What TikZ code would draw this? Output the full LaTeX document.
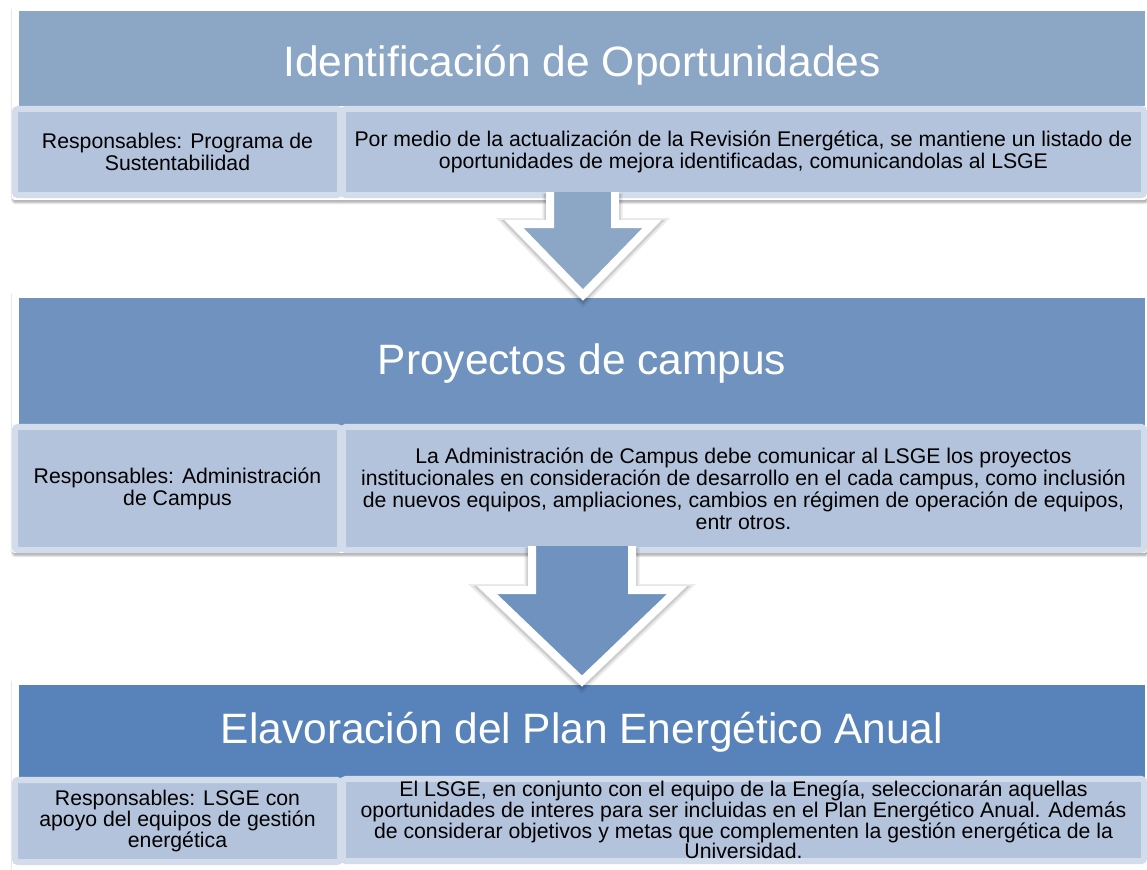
\documentclass[tikz,border=0pt]{standalone}
\usepackage{fontspec}
\setmainfont{Liberation Sans}
\usepackage{xcolor}
\usepackage{tikz}
\usetikzlibrary{shadows.blur}
\definecolor{hdrA}{RGB}{140,167,197}
\definecolor{hdrB}{RGB}{111,147,190}
\definecolor{hdrC}{RGB}{88,131,186}
\definecolor{cellfill}{RGB}{179,195,219}
\definecolor{cellline}{RGB}{211,220,234}

\begin{document}
\begin{tikzpicture}[x=0.025cm, y=-0.025cm,
	frame/.style={fill=white, rounded corners=2pt, blur shadow={shadow xshift=0.4pt, shadow yshift=-1.8pt, shadow opacity=35, shadow blur radius=1.5pt, shadow blur steps=6}},
	hdr/.style={rectangle, inner sep=0pt, minimum width=28.15cm},
	title/.style={text=white, font=\fontsize{30.2}{36}\selectfont},
	cell/.style={rectangle, rounded corners=2pt, draw=cellline, line width=0.15cm, fill=cellfill, align=center, inner sep=0pt, font=\fontsize{15.1}{15.6}\selectfont},
	lcell/.style={cell, minimum width=8.125cm},
	rcell/.style={cell, minimum width=20.025cm},
	barrow/.style={draw=white, line width=0.2cm, line join=miter,
		preaction={draw=black, opacity=0.08, line width=0.38cm, transform canvas={yshift=-1.2pt}},
		preaction={draw=black, opacity=0.12, line width=0.28cm, transform canvas={yshift=-1pt}}}]
	\useasboundingbox (0,0) rectangle (1147,870);
	
	% Box 1
	\path[frame] (12,5) rectangle (1147,200);
	\node[hdr, fill=hdrA, minimum height=2.375cm] (h1) at (582,58.5) {};
	\node[title] (t1) at (582,65) {Identificación de Oportunidades};
	\node[lcell, minimum height=2.15cm] (l1) at (177.5,152) {Responsables: Programa de\\ Sustentabilidad};
	\node[rcell, minimum height=2.15cm] (r1) at (743.5,152) {Por medio de la actualización de la Revisión Energética, se mantiene un listado de\\ oportunidades de mejora identificadas, comunicandolas al LSGE};
	
	% Box 2
	\path[frame] (12,290) rectangle (1147,553);
	\node[hdr, fill=hdrB, minimum height=3.225cm] (h2) at (582,362.5) {};
	\node[title] (t2) at (582,364) {Proyectos de campus};
	\node[lcell, minimum height=3.075cm] (l2) at (177.5,488.5) {Responsables: Administración\\ de Campus};
	\node[rcell, minimum height=3.075cm] (r2) at (743.5,488.5) {La Administración de Campus debe comunicar al LSGE los proyectos\\ institucionales en consideración de desarrollo en el cada campus, como inclusión\\ de nuevos equipos, ampliaciones, cambios en régimen de operación de equipos,\\ entr otros.};
	
	% Box 3
	\path[frame] (12,677) rectangle (1147,872);
	\node[hdr, fill=hdrC, minimum height=2.375cm] (h3) at (582,732.5) {};
	\node[title] (t3) at (582,732.5) {Elavoración del Plan Energético Anual};
	\node[lcell, minimum height=2.05cm, font=\fontsize{15.1}{14.8}\selectfont] (l3) at (177.5,821) {Responsables: LSGE con\\ apoyo del equipos de gestión\\ energética};
	\node[rcell, minimum height=2.05cm, font=\fontsize{15.1}{14.8}\selectfont] (r3) at (743.5,820) {El LSGE, en conjunto con el equipo de la Enegía, seleccionarán aquellas\\ oportunidades de interes para ser incluidas en el Plan Energético Anual. Además\\ de considerar objetivos y metas que complementen la gestión energética de la\\ Universidad.};
	
	% Arrows between the boxes
	\filldraw[barrow, fill=hdrA] (550,192) -- (550,224) -- (514,224) -- (583,295) -- (652,224) -- (615,224) -- (615,192);
	\filldraw[barrow, fill=hdrB] (532,546) -- (532,590) -- (487,590) -- (582,681) -- (677,590) -- (632,590) -- (632,546);
	
\end{tikzpicture}
\end{document}
